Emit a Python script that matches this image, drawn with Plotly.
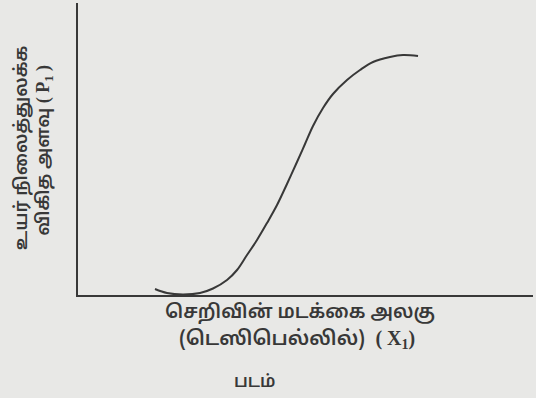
import plotly.graph_objects as go

# Response curve: relative level (0-100) against log-intensity (0-100)
intensity = [16.92, 19.56, 23.08, 26.81, 29.67, 32.75, 34.95, 37.14, 39.34,
             41.54, 43.74, 45.93, 48.13, 49.89, 51.65, 53.85, 56.04, 59.12,
             61.98, 64.84, 68.57, 71.43, 74.73]
response = [2.05, 0.68, 0.17, 0.68, 2.23, 5.14, 8.56, 13.70, 18.84,
            24.66, 30.82, 38.01, 45.55, 51.71, 57.88, 64.04, 68.84, 73.63,
            77.05, 79.79, 81.51, 82.19, 81.85]

serif = "font-family:'Liberation Serif', serif"
x_title_1 = "செறிவின் மடக்கை அலகு"
x_title_2 = f"(டெஸிபெல்லில்)  <span style=\"{serif}\">( X<sub>1</sub>)</span>"
y_title_1 = "உயர் நிலைத்துலக்க"
y_title_2 = f"விகித அளவு <span style=\"{serif}\">( P<sub>1</sub> )</span>"
caption = "படம்"

ink = "#383838"
bg = "#e8e8e6"
tamil = "Noto Sans Tamil, FreeSans, sans-serif"


def font(size):
    return dict(family=tamil, size=size, color=ink, weight=600)


fig = go.Figure(go.Scatter(
    x=intensity, y=response, mode="lines",
    line=dict(color=ink, width=2, shape="spline", smoothing=1.0),
    hoverinfo="skip",
))

axis_common = dict(showline=True, linecolor=ink, linewidth=2, showgrid=False,
                   zeroline=False, showticklabels=False, ticks="", fixedrange=True)
fig.update_xaxes(range=[0, 100], **axis_common)
fig.update_yaxes(range=[0, 100], **axis_common)

annotations = [
    dict(text=x_title_1, x=0.488, y=-0.062, size=19),
    dict(text=x_title_2, x=0.481, y=-0.154, size=20),
    dict(text=caption, x=0.389, y=-0.301, size=17),
    dict(text=y_title_1, x=-0.123, y=0.503, textangle=-90, size=18),
    dict(text=y_title_2, x=-0.073, y=0.497, textangle=-90, size=18),
]
for a in annotations:
    size = a.pop("size")
    fig.add_annotation(xref="paper", yref="paper", showarrow=False,
                       xanchor="center", yanchor="middle", font=font(size), **a)

fig.update_layout(
    width=536, height=398,
    margin=dict(l=78, r=3, t=3, b=103),
    paper_bgcolor=bg, plot_bgcolor=bg,
    showlegend=False,
)

fig.write_html("out.html")
